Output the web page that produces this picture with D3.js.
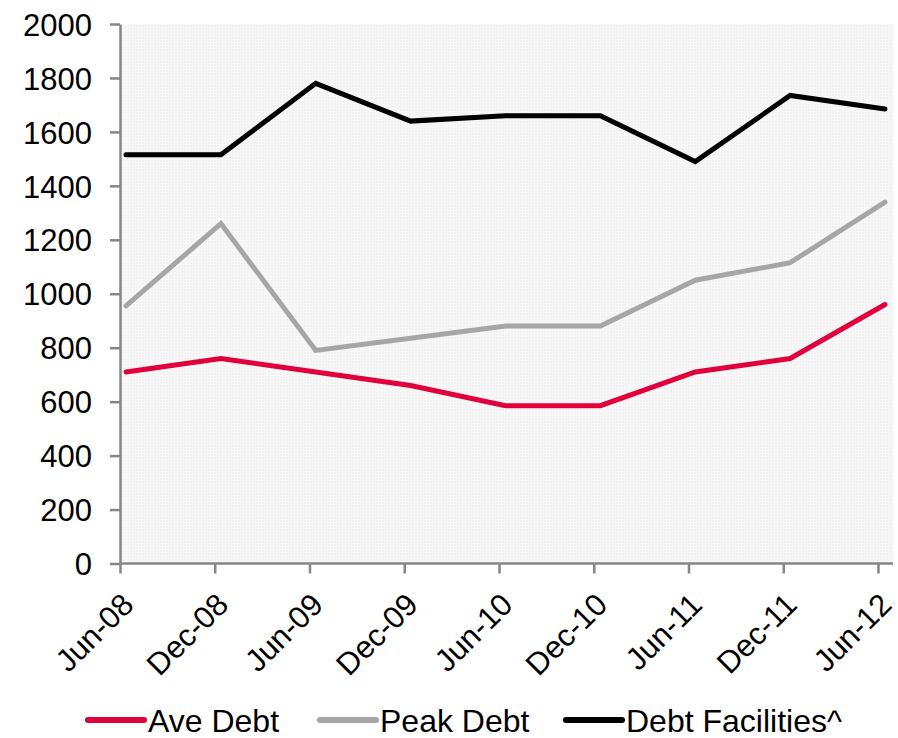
<!DOCTYPE html>
<html>
<head>
<meta charset="utf-8">
<script src="https://cdn.jsdelivr.net/npm/d3@7"></script>
<style>
  html, body { margin: 0; padding: 0; background: #ffffff; }
  svg { display: block; }
  text { font-family: "Liberation Sans", Arial, sans-serif; fill: #000; }
</style>
</head>
<body>
<svg id="chart" width="898" height="738"></svg>
<script>
// Half-yearly periods
const periods = ["Jun-08", "Dec-08", "Jun-09", "Dec-09", "Jun-10", "Dec-10", "Jun-11", "Dec-11", "Jun-12"];

// Debt levels per period
const aveDebt        = [710, 760, 710, 660, 585, 585, 710, 760, 960];
const peakDebt       = [955, 1260, 790, 835, 880, 880, 1050, 1115, 1340];
const debtFacilities = [1515, 1515, 1780, 1640, 1660, 1660, 1490, 1735, 1685];

const yTicks = [0, 200, 400, 600, 800, 1000, 1200, 1400, 1600, 1800, 2000];

const seriesNames  = ["Ave Debt", "Peak Debt", "Debt Facilities^"];
const seriesColors = ["#e2003c", "#a6a6a6", "#000000"];
const seriesValues = [aveDebt, peakDebt, debtFacilities];

const svg = d3.select("#chart");

const plot = { left: 120, right: 893, top: 24, bottom: 563.5 };

// Category axis ticks and data points sit on slightly different grids
const xTick = d3.scalePoint().domain(periods).range([120, 878]);
const xData = d3.scalePoint().domain(periods).range([126, 885]);
const y = d3.scaleLinear().domain([0, 2000]).range([plot.bottom, plot.top]);

// Fine textured plot background
const defs = svg.append("defs");
const pat = defs.append("pattern")
  .attr("id", "bgTex").attr("patternUnits", "userSpaceOnUse")
  .attr("width", 3).attr("height", 3);
pat.append("rect").attr("width", 3).attr("height", 3).attr("fill", "#f2f2f2");
pat.append("rect").attr("x", 0).attr("y", 0).attr("width", 3).attr("height", 1).attr("fill", "#f8f8f8");
pat.append("rect").attr("x", 0).attr("y", 0).attr("width", 1).attr("height", 3).attr("fill", "#f8f8f8");

svg.append("rect")
  .attr("x", plot.left).attr("y", plot.top)
  .attr("width", plot.right - plot.left).attr("height", plot.bottom - plot.top)
  .attr("fill", "url(#bgTex)");

// Y axis
const yAxis = svg.append("g")
  .attr("transform", `translate(${plot.left},0)`)
  .call(d3.axisLeft(y).tickValues(yTicks).tickFormat(d3.format("d"))
    .tickSize(10).tickPadding(18).tickSizeOuter(0));
yAxis.select(".domain").attr("stroke", "#868686").attr("stroke-width", 2.5);
yAxis.selectAll(".tick line").attr("stroke", "#868686").attr("stroke-width", 2.5);
yAxis.selectAll(".tick text")
  .attr("font-size", 31).attr("font-family", "Liberation Sans, Arial, sans-serif")
  .attr("fill", "#000").attr("dy", "0.36em");

// X axis
const xAxis = svg.append("g")
  .attr("transform", `translate(0,${plot.bottom})`)
  .call(d3.axisBottom(xTick).tickSize(10).tickSizeOuter(0));
xAxis.select(".domain").attr("stroke", "#868686").attr("stroke-width", 2.5)
  .attr("d", `M${plot.left},0H${plot.right}`);
xAxis.selectAll(".tick line").attr("stroke", "#868686").attr("stroke-width", 2.5);
xAxis.selectAll(".tick text")
  .attr("font-size", 31).attr("font-family", "Liberation Sans, Arial, sans-serif")
  .attr("fill", "#000")
  .attr("text-anchor", "end")
  .attr("y", 0).attr("dy", 0)
  .attr("transform", "translate(15,43) rotate(-45)");

// Series lines
const line = d3.line()
  .x((d, i) => xData(periods[i]))
  .y(d => y(d));

seriesValues.forEach((vals, k) => {
  svg.append("path")
    .datum(vals)
    .attr("d", line)
    .attr("fill", "none")
    .attr("stroke", seriesColors[k])
    .attr("stroke-width", 5)
    .attr("stroke-linecap", "round")
    .attr("stroke-linejoin", "miter");
});

// Legend
const legendItems = [
  { x: 88 },
  { x: 320 },
  { x: 566 }
];
const legend = svg.append("g");
legendItems.forEach((it, k) => {
  legend.append("line")
    .attr("x1", it.x).attr("x2", it.x + 56)
    .attr("y1", 720).attr("y2", 720)
    .attr("stroke", seriesColors[k]).attr("stroke-width", 6)
    .attr("stroke-linecap", "round");
  legend.append("text")
    .attr("x", it.x + 60).attr("y", 732)
    .attr("font-size", 32)
    .text(seriesNames[k]);
});
</script>
</body>
</html>
